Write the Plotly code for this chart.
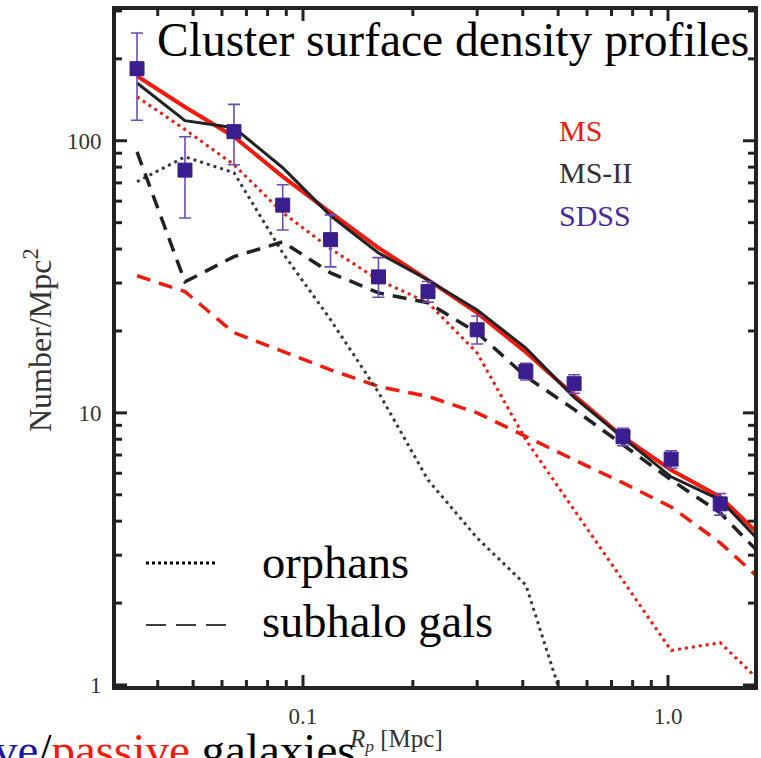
import math
import plotly.graph_objects as go

# ---------------- data ----------------
# radial bins (Mpc)
r_sdss = [0.0351, 0.0475, 0.0647, 0.088, 0.119, 0.161, 0.22, 0.30, 0.408, 0.553, 0.753, 1.02, 1.39]
sdss = [184, 78, 108, 58, 43.3, 31.6, 27.9, 20.2, 14.2, 12.8, 8.18, 6.76, 4.63]
sdss_err_up = [65, 25.5, 28, 10.9, 10.1, 5.6, 2.5, 2.5, 1.0, 1.0, 0.6, 0.5, 0.42]
sdss_err_dn = [65, 26, 26.4, 11, 8.9, 5.0, 2.4, 2.3, 1.0, 1.0, 0.6, 0.5, 0.42]

r_model = [0.0351, 0.0475, 0.0647, 0.088, 0.119, 0.161, 0.22, 0.30, 0.408, 0.553, 0.753, 1.02, 1.39, 1.89]
ms_all = [173, 133, 103.5, 73.8, 54.4, 40.4, 30.8, 23.3, 16.7, 11.6, 8.16, 6.17, 4.91, 3.30]
ms_orph = [145, 110, 81.6, 54.4, 40.1, 30.8, 25.4, 16.6, 7.95, 4.40, 2.43, 1.34, 1.43, 0.96]
ms_sub = [31.9, 27.9, 19.7, 16.8, 14.4, 12.5, 11.5, 10.0, 8.16, 6.72, 5.53, 4.51, 3.33, 2.29]
ms2_all = [163, 118.5, 111.7, 79.6, 53, 38.7, 30.8, 23.9, 17.3, 11.4, 8.09, 5.82, 4.79, 3.11]
ms2_sub = [91, 30.3, 37.5, 42.5, 32.7, 27.6, 25.4, 19.7, 13.6, 10.3, 7.63, 5.67, 4.29, 2.81]
r_ms2_orph = [0.0351, 0.0475, 0.0647, 0.088, 0.119, 0.161, 0.22, 0.30, 0.408, 0.553]
ms2_orph = [70.7, 87.3, 76.3, 38.7, 22.0, 11.9, 5.67, 3.47, 2.33, 0.65]

x_tickvals = [0.1, 1.0]
x_ticktext = ["0.1", "1.0"]
y_tickvals = [1, 10, 100]
y_ticktext = ["1", "10", "100"]
x_minor = [0.04, 0.05, 0.06, 0.07, 0.08, 0.09, 0.2, 0.3, 0.4, 0.5, 0.6, 0.7, 0.8, 0.9]
y_minor = [2, 3, 4, 5, 6, 7, 8, 9, 20, 30, 40, 50, 60, 70, 80, 90, 200, 300]

# ---------------- layout geometry ----------------
# body margin is reset to 0 by the post script, so figure pixels == page pixels
W, H = 761, 758
L, R, T, B = 116, 7, 10, 72
PW, PH = W - L - R, H - T - B
XR = [-1.5123, 0.2356]
YR = [-0.0037, 2.4805]


def xp(px):
    """page pixel x -> paper coordinate"""
    return (px - L) / PW


def yp(py):
    """page pixel y -> paper coordinate"""
    return (H - B - py) / PH


def xfrac(v):
    return (math.log10(v) - XR[0]) / (XR[1] - XR[0])


def yfrac(v):
    return (math.log10(v) - YR[0]) / (YR[1] - YR[0])


RED = "#f21a0c"
BLK = "#222222"
GRY = "#3a3a3a"
PUR = "#3b1e8e"
PUR_ERR = "#6a4cb8"
SERIF = "Liberation Serif"

fig = go.Figure()

fig.add_trace(go.Scatter(x=r_model, y=ms_sub, mode="lines",
                         line=dict(color=RED, width=3.5, dash="14px,9px")))
fig.add_trace(go.Scatter(x=r_model, y=ms_orph, mode="lines",
                         line=dict(color=RED, width=3, dash="3px,4px")))
fig.add_trace(go.Scatter(x=r_ms2_orph, y=ms2_orph, mode="lines",
                         line=dict(color=GRY, width=3, dash="3px,4px")))
fig.add_trace(go.Scatter(x=r_model, y=ms2_sub, mode="lines",
                         line=dict(color=BLK, width=3.5, dash="14px,9px")))
fig.add_trace(go.Scatter(x=r_model, y=ms_all, mode="lines",
                         line=dict(color=RED, width=4)))
fig.add_trace(go.Scatter(x=r_model, y=ms2_all, mode="lines",
                         line=dict(color=BLK, width=3)))
fig.add_trace(go.Scatter(x=r_sdss, y=sdss, mode="markers",
                         marker=dict(symbol="square", size=14, color=PUR,
                                     line=dict(color=PUR, width=1)),
                         error_y=dict(type="data", array=sdss_err_up, arrayminus=sdss_err_dn,
                                      color=PUR_ERR, thickness=1.6, width=6)))

axis_common = dict(showline=True, linewidth=4, linecolor=BLK, mirror=True,
                   ticks="", showgrid=False, zeroline=False, automargin=False,
                   tickfont=dict(family=SERIF, size=23, color="#333333"))

fig.update_xaxes(type="log", range=XR, tickmode="array", tickvals=x_tickvals, ticktext=x_ticktext,
                 ticklabelstandoff=6, **axis_common)
fig.update_yaxes(type="log", range=YR, tickmode="array", tickvals=y_tickvals, ticktext=y_ticktext,
                 ticklabelstandoff=6, **axis_common)

# tick marks on all four sides (inside), major long and minor short
shapes = []
tick_line = dict(color=BLK, width=3)
for vals, ln in ((x_tickvals, 11), (x_minor, 6)):
    for v in vals:
        f = xfrac(v)
        shapes.append(dict(type="line", xref="paper", yref="paper", x0=f, x1=f,
                           y0=0, y1=ln / PH, line=tick_line))
        shapes.append(dict(type="line", xref="paper", yref="paper", x0=f, x1=f,
                           y0=1 - ln / PH, y1=1, line=tick_line))
for vals, ln in ((y_tickvals, 11), (y_minor, 6)):
    for v in vals:
        f = yfrac(v)
        if f > 1:
            continue
        shapes.append(dict(type="line", xref="paper", yref="paper", y0=f, y1=f,
                           x0=0, x1=ln / PW, line=tick_line))
        shapes.append(dict(type="line", xref="paper", yref="paper", y0=f, y1=f,
                           x0=1 - ln / PW, x1=1, line=tick_line))

# legend samples for line styles
shapes += [
    dict(type="line", xref="paper", yref="paper", x0=xp(146), x1=xp(218), y0=yp(563), y1=yp(563),
         line=dict(color="black", width=3, dash="3px,3px")),
    dict(type="line", xref="paper", yref="paper", x0=xp(146), x1=xp(226), y0=yp(625), y1=yp(625),
         line=dict(color="black", width=1.3, dash="20px,10px")),
]

annotations = [
    dict(text="Cluster surface density profiles", x=xp(155), y=yp(40), xanchor="left", yanchor="middle",
         font=dict(family=SERIF, size=47.5, color="black")),
    dict(text="MS", x=xp(557), y=yp(130), xanchor="left", yanchor="middle",
         font=dict(family=SERIF, size=30, color=RED)),
    dict(text="MS-II", x=xp(557), y=yp(172), xanchor="left", yanchor="middle",
         font=dict(family=SERIF, size=30, color="#333333")),
    dict(text="SDSS", x=xp(557), y=yp(215), xanchor="left", yanchor="middle",
         font=dict(family=SERIF, size=30, color="#4a2a9a")),
    dict(text="orphans", x=xp(260), y=yp(562), xanchor="left", yanchor="middle",
         font=dict(family=SERIF, size=46.5, color="black")),
    dict(text="subhalo gals", x=xp(260), y=yp(621), xanchor="left", yanchor="middle",
         font=dict(family=SERIF, size=46.5, color="black")),
    dict(text="Number/Mpc<sup>2</sup>", x=xp(38), y=yp(340), textangle=-90,
         xanchor="center", yanchor="middle",
         font=dict(family=SERIF, size=32, color="#333333")),
    dict(text="<i>R</i><sub><i>p</i></sub> [Mpc]", x=xp(396), y=yp(740),
         xanchor="center", yanchor="middle",
         font=dict(family=SERIF, size=25, color="#333333")),
    dict(text="<span style='color:#1a1aa0'>ve</span>/<span style='color:#f21a0c'>passive</span> galaxies",
         x=xp(358), y=yp(778), xanchor="right", yanchor="bottom",
         font=dict(family=SERIF, size=47, color="black")),
]
for a in annotations:
    a.update(xref="paper", yref="paper", showarrow=False)

fig.update_layout(width=W, height=H, margin=dict(l=L, r=R, t=T, b=B),
                  paper_bgcolor="white", plot_bgcolor="white", showlegend=False,
                  annotations=annotations, shapes=shapes)

fig.write_html("out.html", config={"displayModeBar": False},
               post_script="document.body.style.margin='0px';document.body.style.overflow='hidden';")
